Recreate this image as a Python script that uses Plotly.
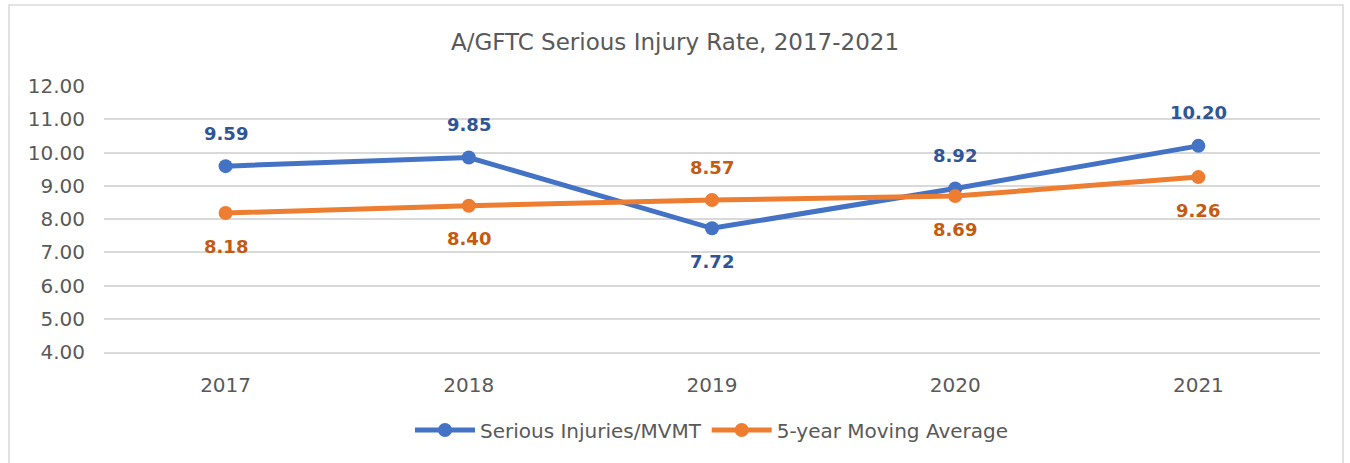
import plotly.graph_objects as go

years = ["2017", "2018", "2019", "2020", "2021"]
serious_injuries = [9.59, 9.85, 7.72, 8.92, 10.20]
moving_avg = [8.18, 8.40, 8.57, 8.69, 9.26]
y_ticks = [4, 5, 6, 7, 8, 9, 10, 11, 12]
label_pos_si = ["above", "above", "below", "above", "above"]
label_pos_ma = ["below", "below", "above", "below", "below"]

BLUE = "#4472C4"
ORANGE = "#ED7D31"
BLUE_TXT = "#2F5597"
ORANGE_TXT = "#C55A11"
FONT = "DejaVu Sans, sans-serif"

fig = go.Figure()
fig.add_trace(go.Scatter(x=years, y=serious_injuries, mode="lines+markers",
                         name="Serious Injuries/MVMT",
                         line=dict(color=BLUE, width=5),
                         marker=dict(color=BLUE, size=14)))
fig.add_trace(go.Scatter(x=years, y=moving_avg, mode="lines+markers",
                         name="5-year Moving Average",
                         line=dict(color=ORANGE, width=5),
                         marker=dict(color=ORANGE, size=14)))

annotations = []
for ys, pos, col in [(serious_injuries, label_pos_si, BLUE_TXT),
                     (moving_avg, label_pos_ma, ORANGE_TXT)]:
    for i, (y, p) in enumerate(zip(ys, pos)):
        annotations.append(dict(x=i, y=y, xref="x", yref="y", text=f"<b>{y:.2f}</b>",
                                showarrow=False, yshift=33 if p == "above" else -33,
                                font=dict(family=FONT, size=18, color=col)))

W, H = 1350, 463
ml, mr, mt, mb = 104, 30, 86, 111
pw, ph = W - ml - mr, H - mt - mb
def px(v):
    return (v - ml) / pw
def py(v):
    return 1 - (v - mt) / ph

fig.update_layout(
    width=W, height=H,
    margin=dict(l=ml, r=mr, t=mt, b=mb, autoexpand=False),
    paper_bgcolor="white", plot_bgcolor="white",
    title=dict(text="A/GFTC Serious Injury Rate, 2017-2021", x=0.5, xanchor="center",
               y=1 - 42 / H, yanchor="middle",
               font=dict(family=FONT, size=23, color="#595959")),
    font=dict(family=FONT, color="#595959"),
    xaxis=dict(type="category", range=[-0.5, 4.5], showgrid=False, zeroline=False,
               showline=True, linecolor="#D9D9D9", linewidth=1.5,
               ticks="", ticklabelstandoff=14,
               tickfont=dict(size=20, color="#595959")),
    yaxis=dict(range=[4, 12], tickvals=y_ticks, ticktext=[f"{v:.2f}" for v in y_ticks],
               showgrid=True, gridcolor="#D9D9D9", gridwidth=1.5, zeroline=False,
               showline=False, ticks="", ticklabelstandoff=18,
               tickfont=dict(size=20, color="#595959")),
    legend=dict(orientation="h", x=0.5, xanchor="center", y=py(430), yanchor="middle",
                font=dict(family=FONT, size=20, color="#595959"), itemwidth=60),
    showlegend=True,
    annotations=annotations,
    shapes=[dict(type="rect", xref="paper", yref="paper",
                 x0=px(9), x1=px(1343), y0=py(470), y1=py(5),
                 line=dict(color="#D9D9D9", width=1.5), fillcolor="rgba(0,0,0,0)",
                 layer="below")],
)

fig.write_html("out.html", config={"displayModeBar": False},
               post_script="document.body.style.margin='0';document.body.style.overflow='hidden';")
